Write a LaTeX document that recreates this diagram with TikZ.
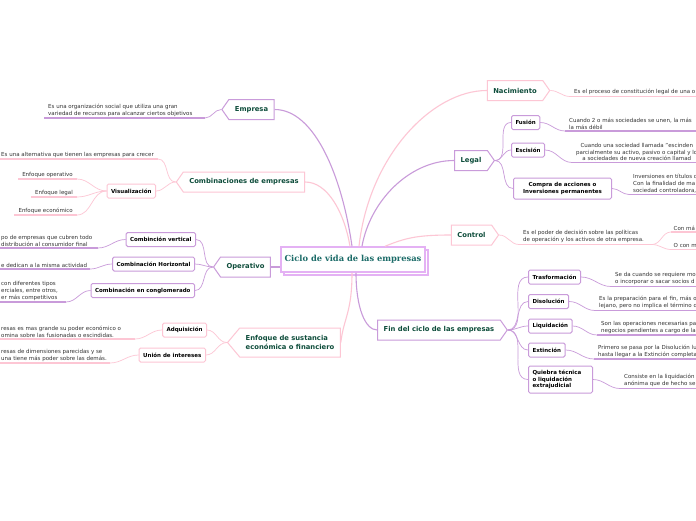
\documentclass[tikz,border=0pt]{standalone}
\usepackage{fontspec}
\setmainfont{DejaVu Sans}
\newfontfamily\titlefont{DejaVu Serif}
\usetikzlibrary{shapes.symbols,shadows}
\definecolor{lila}{HTML}{C99BDA}
\definecolor{rosa}{HTML}{FDC6D4}
\definecolor{violeta}{HTML}{E4B1F4}
\definecolor{verde}{HTML}{0E4D3B}
\definecolor{tituloc}{HTML}{1B6B68}
\definecolor{gris}{HTML}{333333}

\begin{document}
\begin{tikzpicture}[x=1pt, y=-1pt,
  tema/.style={signal, signal to=#1, signal pointer angle=110, draw, fill=white,
               line width=1pt, text=verde, font=\fontsize{6.8}{8.4}\selectfont\bfseries,
               inner xsep=6pt, minimum height=20pt},
  sub/.style={draw, fill=white, rounded corners=1.5pt, line width=1pt,
              font=\fontsize{5.5}{6.5}\selectfont\bfseries, inner xsep=4pt, minimum height=14pt},
  desc/.style={anchor=south west, align=left, text=gris, inner xsep=4pt, inner ysep=1.4pt,
               font=\fontsize{5.5}{6.8}\selectfont},
  rama/.style={line width=1.1pt},
  liga/.style={line width=0.7pt},
  raya/.style={line width=1.4pt},
]
  \fill[white] (0,0) rectangle (696,520);
  \useasboundingbox (0,0) rectangle (696,520);

  % nodo central
  \node[draw=violeta, line width=1.5pt, fill=white, copy shadow={shadow xshift=3pt, shadow yshift=-3pt},
        font=\titlefont\fontsize{8.3}{10}\selectfont\bfseries, text=tituloc,
        minimum width=144pt, minimum height=25pt] (titulo) at (353,259.5) {Ciclo de vida de las empresas};

  % temas principales
  \node[tema=west, draw=lila] (emp) at (251.5,109.5) {Empresa};
  \node[tema=west, draw=rosa] (comb) at (244,182) {Combinaciones de empresas};
  \node[tema=west, draw=lila] (ope) at (245.5,267) {Operativo};
  \node[tema=west, draw=rosa, align=left, minimum height=29pt, signal pointer angle=100] (enf) at (290,342.5) {Enfoque de sustancia\\económica o financiero};
  \node[tema=east, draw=rosa] (nac) at (515,90.5) {Nacimiento};
  \node[tema=east, draw=lila] (leg) at (471,160.5) {Legal};
  \node[tema=east, draw=rosa] (ctl) at (471.5,235) {Control};
  \node[tema=east, draw=lila] (fin) at (439,330) {Fin del ciclo de las empresas};

  % subtemas
  \node[sub, draw=rosa, anchor=east] (vis) at (156,191) {Visualización};
  \node[sub, draw=lila, anchor=east] (cv) at (196,239.5) {Combinción vertical};
  \node[sub, draw=lila, anchor=east] (ch) at (195,264) {Combinación Horizontal};
  \node[sub, draw=lila, anchor=east] (cc) at (195,290.5) {Combinación en conglomerado};
  \node[sub, draw=rosa, anchor=east] (adq) at (207,330) {Adquisición};
  \node[sub, draw=rosa, anchor=east] (uni) at (206,355) {Unión de intereses};
  \node[sub, draw=lila, anchor=west] (fus) at (511,122.5) {Fusión};
  \node[sub, draw=lila, anchor=west] (esc) at (511,150) {Escisión};
  \node[sub, draw=lila, anchor=west, align=center, minimum width=98pt, minimum height=21pt] (com) at (513,188.5) {Compra de acciones o\\Inversiones permanentes};
  \node[sub, draw=lila, anchor=west] (tra) at (528,277) {Trasformación};
  \node[sub, draw=lila, anchor=west] (dis) at (528,301.5) {Disolución};
  \node[sub, draw=lila, anchor=west] (liq) at (528,326) {Liquidación};
  \node[sub, draw=lila, anchor=west] (ext) at (528,350) {Extinción};
  \node[sub, draw=lila, anchor=west, align=left, text width=56pt, minimum height=27pt] (qui) at (528,379.5) {Quiebra técnica\\o liquidación\\extrajudicial};

  % ramas del centro
  \draw[rama, lila] (emp.east) .. controls +(40,0) and +(-10,-70) .. ([xshift=-1pt]titulo.north);
  \draw[rama, rosa] (comb.east) .. controls +(22,0) and +(-6,-35) .. ([xshift=-3pt]titulo.north);
  \draw[rama, rosa] (nac.west) .. controls +(-55,0) and +(10,-90) .. ([xshift=6pt]titulo.north);
  \draw[rama, lila] (leg.west) .. controls +(-45,0) and +(8,-45) .. ([xshift=9pt]titulo.north);
  \draw[rama, rosa] (ctl.west) .. controls +(-35,0) and +(20,-8) .. ([xshift=32pt]titulo.north);
  \draw[rama, lila] ([xshift=3pt]titulo.south) .. controls +(0,35) and +(-12,0) .. (fin.west);
  \draw[rama, rosa] ([xshift=-1pt]titulo.south) .. controls +(0,40) and +(3,-25) .. (enf.east);
  \draw[rama, lila] (ope.east) -- (ope.east -| titulo.west);

  % ramas de los subtemas
  \foreach \n in {cv,ch,cc} \draw[liga, lila] (\n.east) to[out=0,in=180] (ope.west);
  \foreach \n in {adq,uni} \draw[liga, rosa] (\n.east) to[out=0,in=180] (enf.west);
  \draw[liga, rosa] (vis.east) to[out=0,in=180] (comb.west);
  \foreach \n in {fus,esc,com} \draw[liga, lila] (leg.east) to[out=0,in=180] (\n.west);
  \foreach \n in {tra,dis,liq,ext,qui} \draw[liga, lila] (fin.east) to[out=0,in=180] (\n.west);

  % textos a la izquierda
  \node[desc] (dEmp) at (44,118) {Es una organización social que utiliza una gran\\variedad de recursos para alcanzar ciertos objetivos};
  \draw[raya, lila] (dEmp.south west) -- ++(161,0) edge[liga, out=0, in=180] (emp.west);
  \node[desc] (dComb) at (-3,159) {Es una alternativa que tienen las empresas para crecer};
  \draw[raya, rosa] (dComb.south west) -- ++(161,0) edge[liga, out=0, in=180] (comb.west);
  \node[desc, anchor=south east] (dEo) at (77,179) {Enfoque operativo};
  \node[desc, anchor=south east] (dEl) at (77,197) {Enfoque legal};
  \node[desc, anchor=south east] (dEe) at (77,215) {Enfoque económico};
  \foreach \n in {dEo,dEl,dEe}
    \draw[raya, rosa] (\n.south west) -- (\n.south east) edge[liga, out=0, in=180] (vis.west);
  \node[desc] (dCv) at (-3,248) {po de empresas que cubren todo\\ distribución al consumidor final};
  \draw[raya, lila] (dCv.south west) -- ++(101,0) edge[liga, out=0, in=180] (cv.west);
  \node[desc] (dCh) at (-3,269) {e dedican a la misma actividad};
  \draw[raya, lila] (dCh.south west) -- ++(93,0) edge[liga, out=0, in=180] (ch.west);
  \node[desc] (dCc) at (-3,302) { con diferentes tipos\\erciales, entre otros,\\er más competitivos};
  \draw[raya, lila] (dCc.south west) -- ++(69,0) edge[liga, out=0, in=180] (cc.west);
  \node[desc] (dAdq) at (-3,339) {resas es mas grande su poder económico o\\omina sobre las fusionadas o escindidas.};
  \draw[raya, rosa] (dAdq.south west) -- ++(138,0) edge[liga, out=0, in=180] (adq.west);
  \node[desc] (dUni) at (-3,363) {resas de dimensiones parecidas y se\\una tiene más poder sobre las demás.};
  \draw[raya, rosa] (dUni.south west) -- ++(113,0) edge[liga, out=0, in=180] (uni.west);

  % textos a la derecha
  \node[desc] (dNac) at (570,96.5) {Es el proceso de constitución legal de una o};
  \draw[liga, rosa] (nac.east) to[out=0,in=180] (dNac.south west);
  \draw[raya, rosa] (dNac.south west) -- ++(126,0);
  \node[desc] (dFus) at (565,131) {Cuando 2 o más sociedades se unen, la más\\la más débil};
  \draw[liga, lila] (fus.east) to[out=0,in=180] (dFus.south west);
  \draw[raya, lila] (dFus.south west) -- ++(131,0);
  \node[desc, align=center] (dEsc) at (572,162.5) {Cuando una sociedad llamada "escinden\\parcialmente su activo, pasivo o capital y lo\\a sociedades de nueva creación llamad};
  \draw[liga, lila] (esc.east) to[out=0,in=180] (dEsc.south west);
  \draw[raya, lila] (dEsc.south west) -- ++(124,0);
  \node[desc] (dCom) at (629,194.5) {Inversiones en títulos d\\Con la finalidad de ma\\sociedad controladora,};
  \draw[liga, lila] (com.east) to[out=0,in=180] (dCom.south west);
  \draw[raya, lila] (dCom.south west) -- ++(67,0);
  \node[desc] (dCtl) at (519,244.5) {Es el poder de decisión sobre las políticas\\de operación y los activos de otra empresa.};
  \draw[liga, rosa] (ctl.east) to[out=0,in=180] (dCtl.south west);
  \draw[raya, rosa] (dCtl.south west) -- ++(133,0) coordinate (uCtl);
  \node[desc, inner xsep=2.5pt] (dCo1) at (671,232) {Con má};
  \node[desc, inner xsep=2.5pt] (dCo2) at (671,249.5) {O con m};
  \foreach \n in {dCo1,dCo2} {
    \draw[liga, rosa] (uCtl) to[out=0,in=180] (\n.south west);
    \draw[raya, rosa] (\n.south west) -- ++(25,0);
  }
  \node[desc] (dTra) at (611,286.5) {Se da cuando se requiere mo\\o incorporar o sacar socios d};
  \node[desc] (dDis) at (595,310.5) {Es la preparación para el fin, más o\\lejano, pero no implica el término d};
  \node[desc] (dLiq) at (597,335) {Son las operaciones necesarias pa\\negocios pendientes a cargo de la};
  \node[desc] (dExt) at (594,359) {Primero se pasa por la Disolución lu\\hasta llegar a la Extinción completa};
  \node[desc] (dQui) at (620,388.5) {Consiste en la liquidación\\anónima que de hecho se};
  \foreach \n/\d in {tra/dTra,dis/dDis,liq/dLiq,ext/dExt,qui/dQui} {
    \draw[liga, lila] (\n.east) to[out=0,in=180] (\d.south west);
    \draw[raya, lila] (\d.south west) -- (\d.south west -| 696,0);
  }
\end{tikzpicture}
\end{document}
